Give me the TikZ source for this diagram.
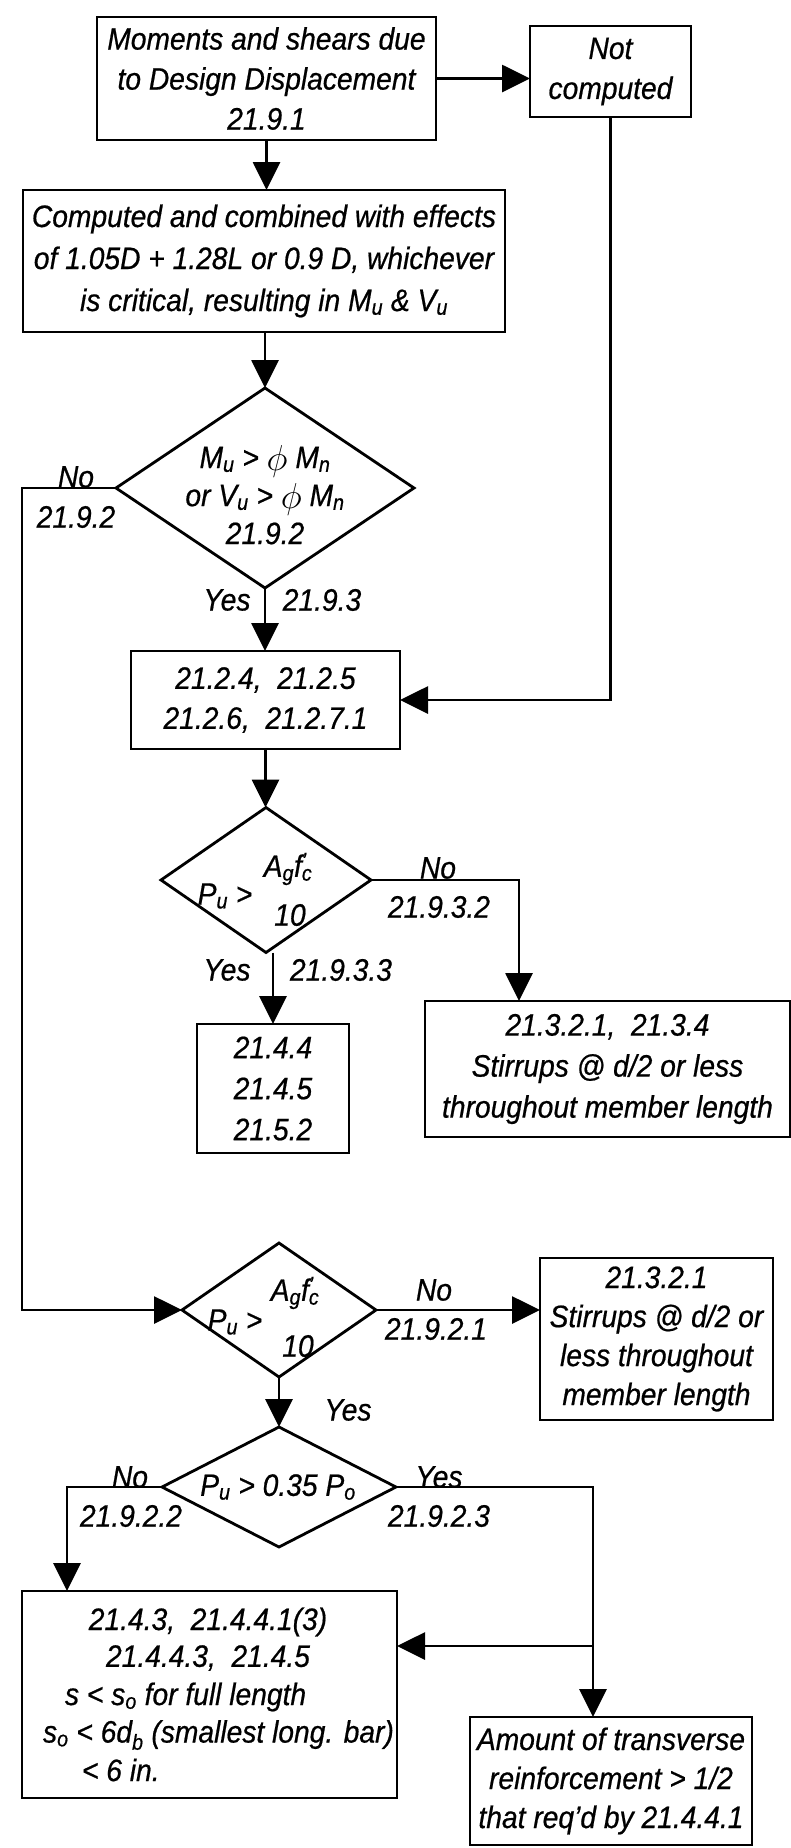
\documentclass[tikz,border=0pt]{standalone}
\usepackage{fontspec}
\usepackage{graphicx}
\setmainfont{Liberation Sans}[FakeStretch=0.91,FakeBold=0.6]
\usetikzlibrary{arrows.meta,shapes.geometric}
\newcommand{\phibig}{\raisebox{-0.08em}{\scalebox{1.45}{$\phi$}}}
\begin{document}
\begin{tikzpicture}[x=1pt,y=-1pt,
  every node/.style={font=\fontsize{31}{40}\selectfont\itshape},
  box/.style={draw,line width=2.8pt,rectangle,inner sep=0pt,outer sep=0pt,align=center},
  dia/.style={draw,line width=2.8pt,diamond,inner sep=0pt,outer sep=0pt},
  conn/.style={line width=2.8pt,-{Triangle[length=28pt,width=27pt]}},
  lbl/.style={inner sep=0pt,outer sep=0pt,align=center}
]
\useasboundingbox (0,0) rectangle (791,1848);

% boxes
\node[box,minimum width=339pt,minimum height=123pt] (b1) at (266.5,78.5) {Moments and shears due\\to Design Displacement\\21.9.1};
\node[box,minimum width=161pt,minimum height=91pt] (nc) at (610.5,71.5) {Not\\computed};
\node[box,minimum width=482pt,minimum height=142pt,font=\fontsize{31}{42}\selectfont\itshape] (b2) at (264,261) {Computed and combined with effects\\of 1.05D + 1.28L or 0.9 D, whichever\\is critical, resulting in M\textsubscript{u} \& V\textsubscript{u}};
\node[dia,minimum width=298pt,minimum height=200pt] (d1) at (265,488) {};
\node[lbl,font=\fontsize{31}{38}\selectfont\itshape] (t1) at (265,495) {M\textsubscript{u} > \phibig\ M\textsubscript{n}\\or V\textsubscript{u} > \phibig\ M\textsubscript{n}\\21.9.2};
\node[box,minimum width=269pt,minimum height=98pt] (b3) at (265.5,700) {21.2.4,\ \ 21.2.5\\21.2.6,\ \ 21.2.7.1};

\node[dia,minimum width=210pt,minimum height=145pt] (d2) at (266,880) {};
\node[lbl] (t2a) at (288,869) {A\textsubscript{g}f\rlap{\textsuperscript{'}}\textsubscript{c}};
\node[lbl] (t2b) at (225,896) {P\textsubscript{u} >};
\node[lbl] (t2c) at (290,915) {10};

\node[box,minimum width=152pt,minimum height=129pt,font=\fontsize{31}{41}\selectfont\itshape] (b4) at (273,1088.5) {21.4.4\\21.4.5\\21.5.2};
\node[box,minimum width=365pt,minimum height=136pt,font=\fontsize{31}{41}\selectfont\itshape] (b5) at (607.5,1069) {21.3.2.1,\ \ 21.3.4\\Stirrups @ d/2 or less\\throughout member length};

\node[dia,minimum width=194pt,minimum height=134pt] (d3) at (279,1310) {};
\node[lbl] (t3a) at (295,1293) {A\textsubscript{g}f\rlap{\textsuperscript{'}}\textsubscript{c}};
\node[lbl] (t3b) at (235,1322) {P\textsubscript{u} >};
\node[lbl] (t3c) at (298,1346) {10};

\node[box,minimum width=233pt,minimum height=162pt,font=\fontsize{31}{39}\selectfont\itshape] (b6) at (656.5,1339) {21.3.2.1\\Stirrups @ d/2 or\\less throughout\\member length};

\node[dia,minimum width=234pt,minimum height=120pt] (d4) at (279,1487) {};
\node[lbl] (t4) at (278,1487) {P\textsubscript{u} > 0.35 P\textsubscript{o}};

\node[box,minimum width=375pt,minimum height=207pt] (b7) at (209.5,1694.5) {};
\node[lbl] (t7a) at (208,1622) {21.4.3,\ \ 21.4.4.1(3)};
\node[lbl] (t7b) at (208,1658) {21.4.4.3,\ \ 21.4.5};
\node[lbl,anchor=west] (t7c) at (65,1697) {s < s\textsubscript{o} for full length};
\node[lbl,anchor=west] (t7d) at (43,1735) {s\textsubscript{o} < 6d\textsubscript{b} (smallest long. bar)};
\node[lbl,anchor=west] (t7e) at (82,1770) {< 6 in.};

\node[box,minimum width=282pt,minimum height=128pt,font=\fontsize{31}{39}\selectfont\itshape] (b8) at (611,1781) {Amount of transverse\\reinforcement > 1/2\\that req'd by 21.4.4.1};

% free corners
\coordinate (c1) at (22,488);
\coordinate (c2) at (519,880);
\coordinate (c3) at (67,1487);
\coordinate (c4) at (593,1487);
\coordinate (c5) at (593,1646);

% connectors
\draw[conn] (b1.east) -- (nc.west |- b1.east);
\draw[conn] (b1.south) -- (b1.south |- b2.north);
\draw[conn] (d1.north |- b2.south) -- (d1.north);
\draw[conn] (d1.south) -- (d1.south |- b3.north);
\draw[conn] (nc.south) |- (b3.east);
\draw[conn] (d1.west) -- (c1) |- (d3.west);
\draw[conn] (b3.south) -- (b3.south |- d2.north);
\draw[conn] (d2.east) -- (c2) -- (c2 |- b5.north);
\draw[conn] (b4.north |- d2.south) -- (b4.north);
\draw[conn] (d3.east) -- (d3.east -| b6.west);
\draw[conn] (d3.south) -- (d4.north);
\draw[conn] (d4.west) -- (c3) -- (c3 |- b7.north);
\draw[conn] (d4.east) -- (c4) -- (c4 |- b8.north);
\draw[conn] (c5) -- (c5 -| b7.east);

% labels
\node[lbl] (l1) at (76,477) {No};
\node[lbl] (l2) at (76,517) {21.9.2};
\node[lbl] (l3) at (227,600) {Yes};
\node[lbl] (l4) at (322,600) {21.9.3};
\node[lbl] (l5) at (438,868) {No};
\node[lbl] (l6) at (439,907) {21.9.3.2};
\node[lbl] (l7) at (227,970) {Yes};
\node[lbl] (l8) at (341,970) {21.9.3.3};
\node[lbl] (l9) at (434,1290) {No};
\node[lbl] (l10) at (436,1329) {21.9.2.1};
\node[lbl] (l11) at (348,1410) {Yes};
\node[lbl] (l12) at (130,1477) {No};
\node[lbl] (l13) at (131,1516) {21.9.2.2};
\node[lbl] (l14) at (439,1477) {Yes};
\node[lbl] (l15) at (439,1516) {21.9.2.3};
\end{tikzpicture}
\end{document}
